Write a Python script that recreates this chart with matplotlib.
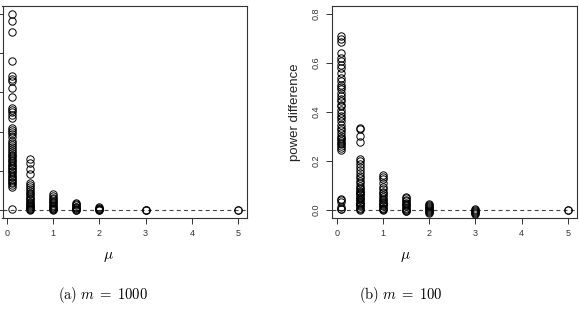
import matplotlib
matplotlib.use("Agg")
import matplotlib.pyplot as plt
import numpy as np

plt.rcParams['mathtext.fontset'] = 'cm'
plt.rcParams['font.family'] = ['Liberation Sans', 'DejaVu Sans']

# ---- data: m = 1000 (panel a) ----
mu_values = [0.1, 0.5, 1, 1.5, 2, 3, 5]
xticks = [0, 1, 2, 3, 4, 5]
a_mu01 = [0.500, 0.481, 0.455, 0.379, 0.341, 0.335, 0.328, 0.312, 0.288, 0.259,
          0.254, 0.249, 0.242, 0.235, 0.208, 0.204, 0.199, 0.193, 0.187, 0.175,
          0.170, 0.165, 0.160, 0.155, 0.150, 0.146, 0.141, 0.137, 0.132, 0.128,
          0.124, 0.120, 0.116, 0.112, 0.108, 0.104, 0.100, 0.096, 0.092, 0.088,
          0.084, 0.080, 0.076, 0.072, 0.068, 0.064, 0.060, 0.003]
a_mu05 = [0.131, 0.119, 0.106, 0.093, 0.069, 0.064, 0.058, 0.053, 0.048, 0.044,
          0.040, 0.036, 0.032, 0.028, 0.025, 0.022, 0.019, 0.016, 0.013, 0.010,
          0.008, 0.006, 0.004, 0.002, 0.000]
a_mu1 = [0.040, 0.036, 0.032, 0.028, 0.024, 0.020, 0.017, 0.014, 0.011, 0.008,
         0.006, 0.004, 0.002, 0.000]
a_mu15 = [0.018, 0.015, 0.012, 0.009, 0.007, 0.005, 0.003, 0.001, 0.000]
a_mu2 = [0.007, 0.005, 0.003, 0.002, 0.001, 0.000]
a_mu3 = [0.001, 0.000, 0.000]
a_mu5 = [0.000, 0.000]
a_yticks = [0, 0.1, 0.2, 0.3, 0.4, 0.5]

# ---- data: m = 100 (panel b) ----
b_mu01 = [0.709, 0.698, 0.687, 0.641, 0.621, 0.607, 0.593, 0.580, 0.559, 0.539,
          0.525, 0.512, 0.503, 0.492, 0.478, 0.464, 0.451, 0.444, 0.430, 0.423,
          0.410, 0.397, 0.383, 0.376, 0.362, 0.349, 0.336, 0.325, 0.315, 0.301,
          0.295, 0.288, 0.281, 0.275, 0.268, 0.261, 0.252, 0.244,
          0.046, 0.040, 0.033, 0.014, 0.006, 0.003]
b_mu05 = [0.335, 0.330, 0.301, 0.279, 0.207, 0.200, 0.190, 0.175, 0.165, 0.152,
          0.140, 0.130, 0.120, 0.110, 0.100, 0.092, 0.085, 0.080, 0.075, 0.070,
          0.065, 0.060, 0.055, 0.050, 0.045, 0.040, 0.035, 0.030, 0.025, 0.020,
          0.015, 0.010, 0.005, 0.000]
b_mu1 = [0.145, 0.135, 0.125, 0.110, 0.095, 0.085, 0.075, 0.068, 0.060, 0.053,
         0.046, 0.040, 0.035, 0.030, 0.025, 0.020, 0.015, 0.010, 0.006, 0.003, 0.000]
b_mu15 = [0.055, 0.048, 0.042, 0.036, 0.030, 0.025, 0.020, 0.015, 0.010, 0.006,
          0.002, -0.002, -0.005]
b_mu2 = [0.025, 0.021, 0.017, 0.013, 0.009, 0.005, 0.002, -0.002, -0.006, -0.010]
b_mu3 = [0.005, 0.002, -0.002, -0.006, -0.010, -0.015]
b_mu5 = [0.000, 0.000]
b_yticks = [0.0, 0.2, 0.4, 0.6, 0.8]
b_yticklabels = ["0.0", "0.2", "0.4", "0.6", "0.8"]

ylabel = "power difference"
xlabel = r"$\mu$"
captions = [r"$\mathrm{(a)}\ m\;=\;1000$", r"$\mathrm{(b)}\ m\;=\;100$"]

W, H = 579, 309
fig = plt.figure(figsize=(W / 100, H / 100), dpi=100)


def px_axes(x0, x1, y0, y1):
    return fig.add_axes([x0 / W, 1 - y1 / H, (x1 - x0) / W, (y1 - y0) / H])


ax_a = px_axes(2.5, 247.2, 6, 218)
ax_b = px_axes(332.2, 576.9, 6, 218)

spine_col = '#333333'


def draw(ax, cols, ylim, yticks):
    for mu, vals in zip(mu_values, cols):
        ax.plot([mu] * len(vals), vals, linestyle='none', marker='o', ms=5.3,
                mfc='none', mec='black', mew=0.7, zorder=3)
    ax.axhline(0, color='#444444', lw=0.8, ls=(0, (3.5, 3)), zorder=2)
    ax.set_xlim(-0.098, 5.198)
    ax.set_ylim(*ylim)
    ax.set_xticks(xticks)
    ax.set_xticklabels([str(t) for t in xticks], fontsize=6.5, color='#333333')
    ax.set_yticks(yticks)
    for s in ax.spines.values():
        s.set_color(spine_col)
        s.set_linewidth(0.8)
    ax.tick_params(length=4, width=0.7, color=spine_col, pad=4)


draw(ax_a, [a_mu01, a_mu05, a_mu1, a_mu15, a_mu2, a_mu3, a_mu5], (-0.02, 0.52), a_yticks)
ax_a.set_yticklabels([])

draw(ax_b, [b_mu01, b_mu05, b_mu1, b_mu15, b_mu2, b_mu3, b_mu5], (-0.032, 0.832), b_yticks)
ax_b.set_yticklabels(b_yticklabels, fontsize=6.5, color='#333333', rotation=90, va='center')

fig.text(295 / W, 1 - 112 / H, ylabel, rotation=90, ha='center', va='center',
         fontsize=9.5, color='#222222')

for xc, cap_x, cap in zip([108, 405], [103, 401], captions):
    fig.text(xc / W, 1 - 257 / H, xlabel, ha='center', va='center', fontsize=11)
    fig.text(cap_x / W, 1 - 295 / H, cap, ha='center', va='center', fontsize=10.5)

fig.savefig("out.png", dpi=100)
